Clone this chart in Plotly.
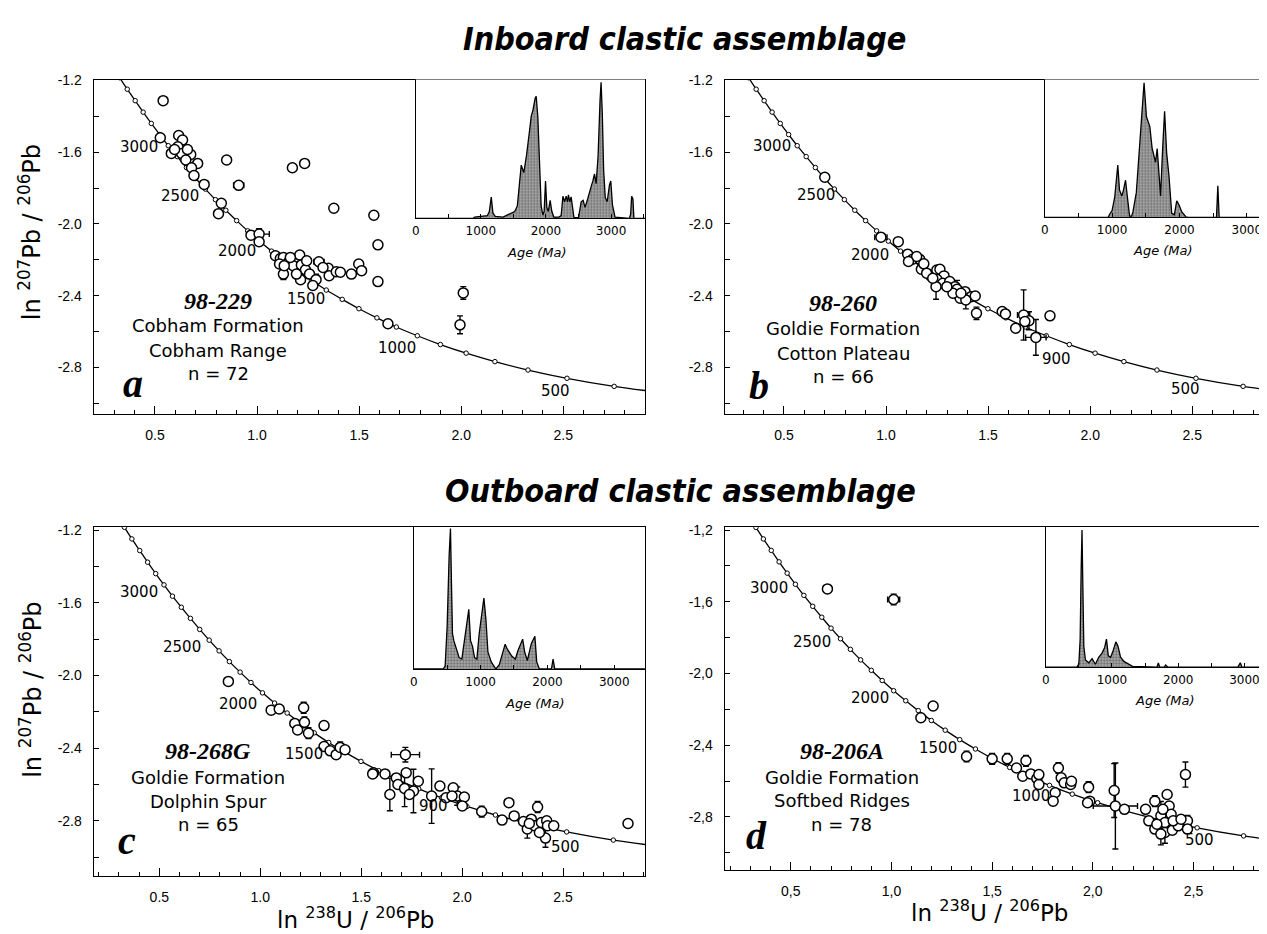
import plotly.graph_objects as go

# The page body has an 8 px margin; the figure is sized/positioned to compensate.
SCREEN_W, SCREEN_H = 1267, 934
OFF = 8
W, H = SCREEN_W - OFF, SCREEN_H - OFF

# ---------------- data ----------------
# Concordia (Tera-Wasserburg, ln space), marker every 100 Ma (300..3500 Ma)
conc_age = [300, 400, 500, 600, 700, 800, 900, 1000, 1100, 1200, 1300, 1400, 1500, 1600, 1700,
            1800, 1900, 2000, 2100, 2200, 2300, 2400, 2500, 2600, 2700, 2800, 2900, 3000, 3100,
            3200, 3300, 3400, 3500]
conc_x = [3.044, 2.749, 2.518, 2.327, 2.165, 2.024, 1.898, 1.785, 1.682, 1.587, 1.499, 1.417,
          1.339, 1.267, 1.198, 1.133, 1.071, 1.011, 0.954, 0.900, 0.847, 0.796, 0.747, 0.700,
          0.654, 0.609, 0.565, 0.523, 0.482, 0.442, 0.403, 0.364, 0.327]
conc_y = [-2.950, -2.906, -2.861, -2.815, -2.768, -2.721, -2.673, -2.624, -2.575, -2.524,
          -2.473, -2.421, -2.369, -2.316, -2.262, -2.207, -2.152, -2.096, -2.039, -1.982,
          -1.924, -1.865, -1.806, -1.747, -1.686, -1.625, -1.564, -1.502, -1.440, -1.377,
          -1.313, -1.249, -1.185]

# Panel a: 98-229
a_x = [0.540, 0.526, 0.616, 0.635, 0.612, 0.580, 0.631, 0.675, 0.651, 0.709, 0.679, 0.691,
       0.741, 0.825, 0.811, 0.851, 0.910, 1.173, 1.233, 1.376, 1.572, 1.592, 1.592, 2.010,
       1.994, 1.641, 0.970, 1.010, 1.010, 1.090, 1.114, 1.129, 1.110, 1.153, 1.129, 1.177,
       1.209, 1.217, 1.237, 1.257, 1.213, 1.289, 1.273, 1.303, 1.349, 1.353, 1.388, 1.408,
       1.462, 1.498, 1.512, 1.193, 1.243, 1.163, 1.133, 1.323, 0.659, 0.596]
a_y = [-1.313, -1.520, -1.507, -1.533, -1.570, -1.607, -1.607, -1.613, -1.644, -1.663, -1.687,
       -1.730, -1.780, -1.885, -1.943, -1.644, -1.785, -1.687, -1.663, -1.913, -1.952, -2.117,
       -2.322, -2.385, -2.563, -2.557, -2.063, -2.057, -2.100, -2.178, -2.193, -2.187, -2.224,
       -2.215, -2.280, -2.233, -2.174, -2.230, -2.256, -2.280, -2.311, -2.311, -2.344, -2.211,
       -2.248, -2.289, -2.267, -2.270, -2.280, -2.224, -2.261, -2.280, -2.206, -2.187, -2.233,
       -2.243, -1.585, -1.585]
a_xerr = [0, 0, 0, 0, 0, 0.02, 0, 0, 0, 0, 0, 0, 0, 0, 0.015, 0, 0.025, 0, 0, 0, 0, 0, 0, 0,
          0, 0, 0, 0.05, 0, 0, 0, 0, 0, 0, 0, 0, 0, 0, 0, 0, 0.02, 0, 0, 0.025, 0, 0, 0, 0,
          0, 0, 0, 0, 0, 0, 0, 0, 0, 0]
a_yerr = [0, 0, 0, 0, 0, 0, 0, 0, 0, 0, 0, 0, 0, 0, 0, 0, 0, 0, 0, 0, 0, 0, 0, 0.035,
          0.05, 0, 0, 0.03, 0, 0, 0, 0, 0, 0, 0.03, 0, 0, 0, 0, 0, 0, 0.03, 0, 0, 0, 0, 0, 0,
          0, 0, 0, 0, 0, 0, 0, 0, 0, 0]

# Panel b: 98-260
b_x = [0.700, 0.975, 1.060, 1.106, 1.130, 1.165, 1.173, 1.185, 1.219, 1.249, 1.264, 1.284,
       1.249, 1.278, 1.245, 1.312, 1.338, 1.348, 1.363, 1.387, 1.417, 1.437, 1.391, 1.443,
       1.569, 1.585, 1.635, 1.674, 1.700, 1.680, 1.734, 1.803, 1.150, 1.110, 1.199, 1.229,
       1.328, 1.367, 1.298]
b_y = [-1.740, -2.074, -2.099, -2.169, -2.197, -2.197, -2.253, -2.223, -2.290, -2.257, -2.253,
       -2.290, -2.309, -2.331, -2.350, -2.322, -2.350, -2.365, -2.415, -2.378, -2.406, -2.402,
       -2.424, -2.499, -2.489, -2.502, -2.582, -2.508, -2.540, -2.545, -2.633, -2.513, -2.182,
       -2.210, -2.275, -2.303, -2.387, -2.387, -2.350]
b_xerr = [0, 0.03, 0, 0, 0, 0, 0, 0, 0, 0, 0, 0, 0, 0, 0, 0, 0, 0, 0, 0, 0, 0.015, 0, 0,
          0, 0, 0, 0.03, 0.02, 0, 0.05, 0, 0, 0, 0, 0, 0, 0, 0]
b_yerr = [0, 0, 0, 0, 0, 0, 0, 0, 0, 0, 0, 0, 0, 0, 0.07, 0, 0, 0.05, 0, 0, 0, 0, 0.05, 0.035,
          0, 0, 0, 0.14, 0.05, 0, 0.1, 0, 0, 0, 0, 0, 0, 0, 0]

# Panel c: 98-268G
c_x = [0.842, 1.054, 1.094, 1.215, 1.171, 1.185, 1.219, 1.239, 1.316, 1.316, 1.346, 1.376,
       1.396, 1.420, 1.561, 1.618, 1.642, 1.674, 1.682, 1.719, 1.723, 1.715, 1.759, 1.783,
       1.849, 1.890, 1.920, 1.956, 1.976, 2.011, 2.001, 2.097, 2.198, 2.232, 2.258, 2.304,
       2.323, 2.343, 2.368, 2.374, 2.359, 2.393, 2.419, 2.423, 2.413, 2.454, 2.822, 1.557,
       1.739, 1.950, 2.383, 2.333]
c_y = [-2.033, -2.191, -2.185, -2.178, -2.264, -2.300, -2.258, -2.318, -2.276, -2.391, -2.415,
       -2.436, -2.396, -2.409, -2.536, -2.542, -2.655, -2.564, -2.600, -2.436, -2.536, -2.622,
       -2.636, -2.582, -2.664, -2.609, -2.673, -2.618, -2.664, -2.669, -2.718, -2.749, -2.796,
       -2.700, -2.773, -2.804, -2.845, -2.791, -2.827, -2.724, -2.827, -2.809, -2.800, -2.827,
       -2.895, -2.827, -2.815, -2.542, -2.655, -2.664, -2.864, -2.815]
c_xerr = [0.02, 0, 0, 0, 0, 0, 0, 0, 0, 0, 0, 0, 0, 0.02, 0, 0, 0, 0, 0, 0.07, 0, 0, 0, 0,
          0, 0, 0, 0, 0, 0, 0, 0, 0, 0.02, 0, 0, 0, 0, 0, 0, 0, 0, 0, 0, 0, 0, 0, 0,
          0, 0, 0, 0]
c_yerr = [0, 0, 0, 0.03, 0, 0, 0.03, 0.03, 0, 0, 0, 0.02, 0.03, 0, 0.02, 0, 0.09, 0, 0, 0.04,
          0, 0.1, 0.12, 0, 0.15, 0, 0, 0, 0.05, 0, 0, 0.03, 0, 0, 0, 0, 0.05, 0, 0, 0.03, 0,
          0, 0, 0, 0.05, 0, 0, 0, 0, 0, 0, 0]

# Panel d: 98-206A
d_x = [0.682, 1.011, 1.207, 1.146, 1.373, 1.500, 1.575, 1.621, 1.668, 1.652, 1.692, 1.722,
       1.732, 1.829, 1.843, 1.813, 1.803, 1.858, 1.890, 1.979, 1.985, 2.106, 2.112, 2.157,
       2.262, 2.278, 2.308, 2.308, 2.338, 2.358, 2.369, 2.379, 2.389, 2.358, 2.395, 2.424,
       2.460, 2.470, 2.470, 2.338, 2.318, 2.399, 2.438, 2.348, 1.732, 1.894, 1.974]
d_y = [-1.528, -1.587, -2.181, -2.247, -2.463, -2.476, -2.476, -2.527, -2.487, -2.573, -2.560,
       -2.586, -2.619, -2.527, -2.582, -2.665, -2.712, -2.610, -2.619, -2.634, -2.712, -2.653,
       -2.739, -2.758, -2.758, -2.822, -2.712, -2.868, -2.794, -2.831, -2.675, -2.739, -2.785,
       -2.887, -2.874, -2.850, -2.564, -2.822, -2.868, -2.896, -2.841, -2.822, -2.813, -2.758,
       -2.564, -2.601, -2.721]
d_xerr = [0.02, 0.03, 0.02, 0, 0, 0, 0, 0, 0.02, 0, 0, 0, 0, 0, 0, 0, 0, 0, 0, 0, 0, 0,
          0.11, 0, 0, 0, 0, 0, 0, 0, 0, 0, 0, 0, 0, 0, 0.02, 0, 0, 0, 0, 0, 0, 0, 0, 0, 0]
d_yerr = [0, 0.03, 0, 0, 0.03, 0.03, 0.03, 0, 0.03, 0, 0, 0, 0, 0.03, 0, 0, 0, 0, 0, 0.03,
          0, 0.15, 0.24, 0, 0, 0, 0.03, 0, 0.08, 0, 0, 0, 0, 0.06, 0, 0, 0.07, 0.03, 0, 0.06,
          0, 0, 0, 0, 0, 0, 0]

# Inset age-probability curves (relative probability)
ia_age = [0, 880, 905, 1000, 1100, 1130, 1160, 1185, 1220, 1340, 1440, 1520, 1560, 1590, 1620,
          1645, 1660, 1700, 1722, 1750, 1773, 1800, 1834, 1850, 1875, 1901, 1926, 1952, 1972,
          1993, 2013, 2035, 2064, 2090, 2120, 2200, 2233, 2260, 2285, 2310, 2330, 2345, 2365,
          2386, 2410, 2430, 2500, 2540, 2570, 2600, 2640, 2670, 2700, 2720, 2745, 2770, 2800,
          2830, 2846, 2865, 2885, 2910, 2940, 2974, 2995, 3020, 3060, 3280, 3300, 3315, 3335,
          3350, 3520]
ia_p = [0, 0, 0.01, 0.015, 0.02, 0.05, 0.154, 0.04, 0.015, 0.01, 0.03, 0.05, 0.09, 0.25, 0.384,
        0.35, 0.33, 0.45, 0.52, 0.64, 0.735, 0.78, 0.865, 0.88, 0.73, 0.38, 0.09, 0.025, 0.05,
        0.27, 0.08, 0.05, 0.13, 0.05, 0.01, 0.01, 0.02, 0.16, 0.12, 0.16, 0.12, 0.17, 0.12,
        0.155, 0.05, 0.005, 0.005, 0.12, 0.13, 0.08, 0.14, 0.2, 0.24, 0.27, 0.32, 0.25, 0.45,
        0.85, 0.98, 0.75, 0.35, 0.15, 0.12, 0.24, 0.27, 0.1, 0.01, 0.0, 0.03, 0.16, 0.14,
        0.0, 0.0]
ib_age = [0, 940, 960, 1000, 1040, 1070, 1085, 1110, 1145, 1170, 1200, 1220, 1245, 1260, 1290,
          1310, 1360, 1410, 1450, 1475, 1510, 1560, 1595, 1645, 1670, 1700, 1720, 1750, 1780,
          1810, 1845, 1885, 1925, 1960, 1995, 2035, 2095, 2130, 2550, 2570, 2590, 3300]
ib_p = [0, 0, 0.02, 0.05, 0.15, 0.3, 0.38, 0.2, 0.156, 0.2, 0.27, 0.18, 0.04, 0.01, 0.01, 0.04,
        0.18, 0.54, 0.85, 0.976, 0.73, 0.66, 0.5, 0.4, 0.5, 0.3, 0.156, 0.49, 0.77, 0.47, 0.3,
        0.03, 0.02, 0.12, 0.09, 0.04, 0.005, 0, 0, 0.23, 0, 0]
ic_age = [0, 440, 470, 500, 530, 550, 565, 580, 600, 640, 680, 720, 760, 800, 824, 850, 880,
          910, 945, 980, 1020, 1050, 1080, 1110, 1160, 1230, 1280, 1340, 1368, 1400, 1470, 1520,
          1560, 1630, 1660, 1700, 1760, 1813, 1840, 1880, 2060, 2085, 2110, 3460]
ic_p = [0, 0, 0.02, 0.3, 0.8, 0.99, 0.6, 0.25, 0.2, 0.13, 0.08, 0.07, 0.2, 0.36, 0.42, 0.2,
        0.16, 0.08, 0.07, 0.25, 0.42, 0.5, 0.35, 0.12, 0.05, 0.0, 0.03, 0.14, 0.175, 0.14, 0.09,
        0.07, 0.13, 0.21, 0.12, 0.06, 0.18, 0.23, 0.05, 0.0, 0.0, 0.07, 0.0, 0]
id_age = [0, 470, 500, 520, 535, 548, 560, 575, 600, 650, 700, 750, 800, 850, 890, 917, 945,
          980, 1020, 1059, 1090, 1130, 1180, 1250, 1310, 1680, 1700, 1720, 1790, 1810, 1840,
          2900, 2920, 2937, 2960, 3340]
id_p = [0, 0, 0.02, 0.2, 0.7, 0.98, 0.6, 0.15, 0.05, 0.03, 0.06, 0.02, 0.07, 0.1, 0.14, 0.2,
        0.08, 0.07, 0.12, 0.18, 0.15, 0.07, 0.04, 0.02, 0.005, 0, 0.03, 0, 0, 0.015, 0, 0,
        0.02, 0.03, 0, 0]

# Labels
sample_ids = ["98-229", "98-260", "98-268G", "98-206A"]
formations = ["Cobham Formation", "Goldie Formation", "Goldie Formation", "Goldie Formation"]
localities = ["Cobham Range", "Cotton Plateau", "Dolphin Spur", "Softbed Ridges"]
n_labels = ["n = 72", "n = 66", "n = 65", "n = 78"]
panel_letters = ["a", "b", "c", "d"]
age_labels = [["3000", "2500", "2000", "1500", "1000", "500"],
              ["3000", "2500", "2000", "900", "500"],
              ["3000", "2500", "2000", "1500", "900", "500"],
              ["3000", "2500", "2000", "1500", "1000", "500"]]
x_tick_vals = [0.5, 1.0, 1.5, 2.0, 2.5]
x_tick_text = ["0.5", "1.0", "1.5", "2.0", "2.5"]
x_tick_text_d = ["0,5", "1,0", "1,5", "2,0", "2,5"]
y_tick_vals = [-1.2, -1.6, -2.0, -2.4, -2.8]
y_tick_text = ["-1.2", "-1.6", "-2.0", "-2.4", "-2.8"]
y_tick_text_d = ["-1,2", "-1,6", "-2,0", "-2,4", "-2,8"]
inset_tick_vals = [0, 1000, 2000, 3000]
inset_tick_text = ["0", "1000", "2000", "3000"]
group_titles = ["Inboard clastic assemblage", "Outboard clastic assemblage"]

# ---------------- layout helpers (screen pixels -> paper) ----------------
def px(x):
    return (x - OFF) / W

def py(y):
    return 1 - (y - OFF) / H

def clamp(v):
    return max(0.0, min(1.0, v))

F_TICK = "Liberation Sans, Arial, sans-serif"
F_TXT = "DejaVu Sans, Verdana, sans-serif"
F_SERIF = "Liberation Serif, Times New Roman, serif"
F_TITLE = "DejaVu Sans Condensed, DejaVu Sans, sans-serif"

frames = [(90, 643, 73, 410), (723, 1267, 73, 410), (90, 643, 524, 876), (723, 1267, 524, 870)]
xranges = [[0.20, 2.90], [0.21, 2.866], [0.175, 2.906], [0.172, 2.865]]
yranges = [[-3.06, -1.195], [-3.06, -1.195], [-3.106, -1.184], [-3.099, -1.183]]
inset_frames = [(413, 643, 73, 213), (1044, 1267, 73, 212), (411, 643, 524, 667), (1045, 1267, 524, 665)]
inset_ranges = [3520, 3300, 3460, 3340]

panel_data = [(a_x, a_y, a_xerr, a_yerr), (b_x, b_y, b_xerr, b_yerr),
              (c_x, c_y, c_xerr, c_yerr), (d_x, d_y, d_xerr, d_yerr)]
inset_data = [(ia_age, ia_p), (ib_age, ib_p), (ic_age, ic_p), (id_age, id_p)]

age_label_pos = [
    [(0.422, -1.572), (0.622, -1.844), (0.904, -2.150), (1.239, -2.419), (1.687, -2.693), (2.464, -2.933)],
    [(0.443, -1.568), (0.658, -1.838), (0.922, -2.173), (1.833, -2.755), (2.466, -2.923)],
    [(0.399, -1.542), (0.611, -1.845), (0.889, -2.155), (1.215, -2.433), (1.860, -2.718), (2.514, -2.945)],
    [(0.393, -1.523), (0.607, -1.823), (0.894, -2.136), (1.231, -2.413), (1.692, -2.684), (2.530, -2.929)],
]
block_pos = [(0.81, [-2.428, -2.567, -2.706, -2.835], (0.392, -2.891)),
             (0.79, [-2.443, -2.582, -2.722, -2.852], (0.377, -2.899)),
             (0.742, [-2.418, -2.564, -2.691, -2.818], (0.339, -2.909)),
             (0.753, [-2.435, -2.579, -2.711, -2.841], (0.328, -2.905))]
agema_pos = [(535, 247), (1163, 245), (533, 702), (1165, 699)]

fig = go.Figure()
layout = dict(width=W, height=H, margin=dict(l=0, r=0, t=0, b=0),
              paper_bgcolor="white", plot_bgcolor="white", showlegend=False)
annotations = []

def paper_text(x, y, text, size, family=F_TXT, angle=0):
    return dict(x=px(x), y=py(y), xref="paper", yref="paper", text=text, showarrow=False,
                xanchor="center", yanchor="middle", textangle=angle,
                font=dict(family=family, size=size, color="black"))

for i in range(4):
    k = i + 1
    xa = "x" if k == 1 else f"x{k}"
    ya = "y" if k == 1 else f"y{k}"
    L, R, T, B = frames[i]
    comma = (i == 3)
    layout["xaxis" if k == 1 else f"xaxis{k}"] = dict(
        domain=[clamp(px(L)), clamp(px(R))], range=xranges[i], anchor=ya,
        showline=True, mirror=True, linecolor="black", linewidth=1.3,
        ticks="inside", ticklen=8, tickwidth=1.2, tickcolor="black",
        tickmode="array", tickvals=x_tick_vals,
        ticktext=x_tick_text_d if comma else x_tick_text,
        tickfont=dict(family=F_TICK, size=14, color="black"), ticklabelstandoff=8,
        minor=dict(tickmode="linear", tick0=0.0, dtick=0.1, ticks="inside", ticklen=4,
                   tickwidth=1, tickcolor="black", showgrid=False),
        showgrid=False, zeroline=False)
    layout["yaxis" if k == 1 else f"yaxis{k}"] = dict(
        domain=[clamp(py(B)), clamp(py(T))], range=yranges[i], anchor=xa,
        showline=True, mirror=(i in (0, 2)), linecolor="black", linewidth=1.3,
        ticks="inside", ticklen=5, tickwidth=1.2, tickcolor="black",
        tickmode="array", tickvals=y_tick_vals,
        ticktext=y_tick_text_d if comma else y_tick_text,
        tickfont=dict(family=F_TICK, size=14, color="black"), ticklabelstandoff=8,
        minor=dict(tickmode="linear", tick0=-1.2, dtick=0.2, ticks="inside", ticklen=5,
                   tickwidth=1, tickcolor="black", showgrid=False),
        showgrid=False, zeroline=False)

    fig.add_trace(go.Scatter(x=conc_x, y=conc_y, xaxis=xa, yaxis=ya, mode="lines+markers",
                             line=dict(color="black", width=1.3, shape="spline", smoothing=0.8),
                             marker=dict(symbol="circle", size=4.5, color="white",
                                         line=dict(color="black", width=1)),
                             hoverinfo="skip"))
    dx, dy, dxe, dye = panel_data[i]
    fig.add_trace(go.Scatter(x=dx, y=dy, xaxis=xa, yaxis=ya, mode="markers",
                             marker=dict(symbol="circle", size=10, color="white",
                                         line=dict(color="black", width=1.5)),
                             error_x=dict(type="data", array=dxe, color="black", thickness=1.4, width=3),
                             error_y=dict(type="data", array=dye, color="black", thickness=1.4, width=3)))

    for txt, (ax_, ay_) in zip(age_labels[i], age_label_pos[i]):
        annotations.append(dict(x=ax_, y=ay_, xref=xa, yref=ya, text=txt, showarrow=False,
                                xanchor="center", yanchor="middle",
                                font=dict(family=F_TXT, size=15, color="black")))
    bx, bys, (lx, ly) = block_pos[i]
    annotations.append(dict(x=bx, y=bys[0], xref=xa, yref=ya, text=f"<b><i>{sample_ids[i]}</i></b>",
                            showarrow=False, xanchor="center", yanchor="middle",
                            font=dict(family=F_SERIF, size=24, color="black")))
    for txt, yy in zip([formations[i], localities[i], n_labels[i]], bys[1:]):
        annotations.append(dict(x=bx, y=yy, xref=xa, yref=ya, text=txt, showarrow=False,
                                xanchor="center", yanchor="middle",
                                font=dict(family=F_TXT, size=18, color="black")))
    annotations.append(dict(x=lx, y=ly, xref=xa, yref=ya, text=f"<b><i>{panel_letters[i]}</i></b>",
                            showarrow=False, xanchor="center", yanchor="middle",
                            font=dict(family=F_SERIF, size=40, color="black")))

    ki = k + 4
    ixa, iya = f"x{ki}", f"y{ki}"
    iL, iR, iT, iB = inset_frames[i]
    layout[f"xaxis{ki}"] = dict(
        domain=[clamp(px(iL)), clamp(px(iR))], range=[0, inset_ranges[i]], anchor=iya,
        showline=True, linecolor="black", linewidth=1.3,
        ticks="inside", ticklen=4, tickcolor="black", tickwidth=1,
        tickmode="array", tickvals=inset_tick_vals, ticktext=inset_tick_text,
        tickfont=dict(family=F_TXT, size=12, color="black"), ticklabelstandoff=1,
        minor=dict(tickmode="linear", tick0=0, dtick=500, ticks="inside", ticklen=4,
                   tickwidth=1, tickcolor="black", showgrid=False),
        showgrid=False, zeroline=False)
    layout[f"yaxis{ki}"] = dict(
        domain=[clamp(py(iB)), clamp(py(iT))], range=[0, 1.0], anchor=ixa,
        showline=True, linecolor="black", linewidth=1.3, ticks="",
        showticklabels=False, showgrid=False, zeroline=False)
    ia, ip = inset_data[i]
    fig.add_trace(go.Scatter(x=ia, y=ip, xaxis=ixa, yaxis=iya, mode="lines",
                             line=dict(color="black", width=1.3), fill="tozeroy",
                             fillcolor="#8a8a8a",
                             fillpattern=dict(shape=".", fgcolor="#222222", bgcolor="#b0b0b0",
                                              size=3, solidity=0.45),
                             hoverinfo="skip"))
    gx, gy = agema_pos[i]
    annotations.append(paper_text(gx, gy, "<i>Age (Ma)</i>", 13))

ytitle = "ln <sup>207</sup>Pb / <sup>206</sup>Pb"
xtitle = "ln <sup>238</sup>U / <sup>206</sup>Pb"
annotations.append(paper_text(26, 227, ytitle, 24, angle=-90))
annotations.append(paper_text(27, 688, ytitle, 24, angle=-90))
annotations.append(paper_text(353, 918, xtitle, 23))
annotations.append(paper_text(989, 911, xtitle, 23))
annotations.append(paper_text(683, 32, f"<b><i>{group_titles[0]}</i></b>", 32, family=F_TITLE))
annotations.append(paper_text(679, 488, f"<b><i>{group_titles[1]}</i></b>", 32, family=F_TITLE))

layout["annotations"] = annotations
fig.update_layout(**layout)
fig.write_html("out.html")
